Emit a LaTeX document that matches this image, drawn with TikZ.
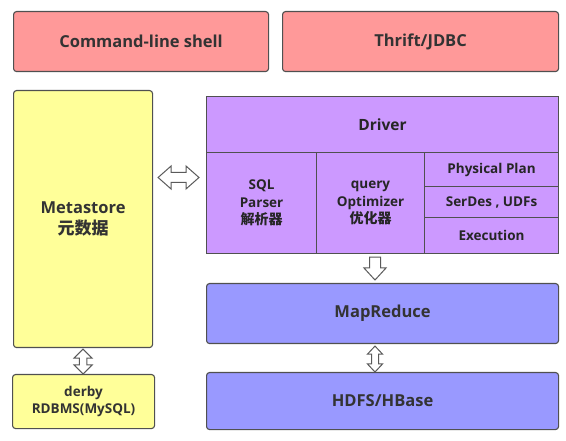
\documentclass[tikz,border=0pt]{standalone}
\usepackage{fontspec}
\newfontfamily\lbl{Open Sans}
\newfontfamily\cjk{Noto Sans CJK SC}
\usetikzlibrary{calc}
\definecolor{pinkc}{HTML}{FF9999}
\definecolor{yelc}{HTML}{FFFF99}
\definecolor{purc}{HTML}{CC99FF}
\definecolor{bluc}{HTML}{9999FF}
\definecolor{bordc}{HTML}{505050}
\definecolor{txtc}{HTML}{333333}
\definecolor{arrc}{HTML}{5A5A5A}
\newcommand\vdarrow[5]{%
  \draw[barrow] let \p1=(#1), \p2=(#2) in
  (\x1,\y1) -- (\x1+#4,\y1-#5) -- (\x1+#3,\y1-#5) -- (\x1+#3,\y2+#5) -- (\x1+#4,\y2+#5)
  -- (\x1,\y2) -- (\x1-#4,\y2+#5) -- (\x1-#3,\y2+#5) -- (\x1-#3,\y1-#5) -- (\x1-#4,\y1-#5) -- cycle;}
\newcommand\sdarrow[5]{%
  \draw[barrow] let \p1=(#1), \p2=(#2) in
  (\x1-#3,\y1) -- (\x1+#3,\y1) -- (\x1+#3,\y2+#5) -- (\x1+#4,\y2+#5) -- (\x1,\y2)
  -- (\x1-#4,\y2+#5) -- (\x1-#3,\y2+#5) -- cycle;}
\newcommand\hdarrow[5]{%
  \draw[barrow] let \p1=(#1), \p2=(#2) in
  (\x1,\y1) -- (\x1+#5,\y1+#4) -- (\x1+#5,\y1+#3) -- (\x2-#5,\y1+#3) -- (\x2-#5,\y1+#4)
  -- (\x2,\y1) -- (\x2-#5,\y1-#4) -- (\x2-#5,\y1-#3) -- (\x1+#5,\y1-#3) -- (\x1+#5,\y1-#4) -- cycle;}
\tikzset{
  box/.style={draw=bordc, line width=1.1pt, rounded corners=3pt, inner sep=0pt,
    anchor=north west, text=txtc, align=center},
  cell/.style={draw=bordc, line width=1.1pt, inner sep=0pt, anchor=north west,
    fill=purc, text=black!85, align=center},
  bigf/.style={font={\lbl\bfseries\fontsize{16.5}{21}\selectfont}},
  midf/.style={font={\lbl\bfseries\fontsize{15.5}{19}\selectfont}},
  smallf/.style={font={\lbl\bfseries\fontsize{13.5}{17.5}\selectfont}},
  barrow/.style={draw=arrc, line width=1pt, fill=white, line join=miter}
}
\begin{document}
\begin{tikzpicture}[x=1pt,y=-1pt]
\useasboundingbox[fill=white] (0,0) rectangle (566,441);
% top row
\node[box, bigf, fill=pinkc, minimum width=255pt, minimum height=60pt] (cli) at (13,11) {Command-line shell};
\node[box, bigf, fill=pinkc, minimum width=276pt, minimum height=60pt] (thr) at (282,11) {Thrift/JDBC};
% metastore
\node[box, bigf, fill=yelc, minimum width=139pt, minimum height=257pt] (meta) at (13,90)
  {Metastore\\{\cjk\bfseries\fontsize{17}{21}\selectfont 元数据}};
\node[box, smallf, fill=yelc, minimum width=142pt, minimum height=54pt] (derby) at (12,374)
  {derby\\RDBMS(MySQL)};
% driver
\node[cell, midf, minimum width=352pt, minimum height=56pt] (drv) at (206,96) {Driver};
\node[cell, smallf, minimum width=110pt, minimum height=101pt] (sql) at (206,152)
  {SQL\\Parser\\{\cjk\bfseries\fontsize{14}{17.5}\selectfont 解析器}};
\node[cell, smallf, minimum width=108pt, minimum height=101pt] (opt) at (316,152)
  {query\\Optimizer\\{\cjk\bfseries\fontsize{14}{17.5}\selectfont 优化器}};
\node[cell, smallf, minimum width=134pt, minimum height=34pt] (pp) at (424,152) {Physical Plan};
\node[cell, smallf, minimum width=134pt, minimum height=31pt] (sd) at (424,186) {SerDes , UDFs};
\node[cell, smallf, minimum width=134pt, minimum height=36pt] (ex) at (424,217) {Execution};
% hadoop
\node[box, bigf, fill=bluc, minimum width=352pt, minimum height=60pt] (mr) at (206,283) {MapReduce};
\node[box, bigf, fill=bluc, minimum width=352pt, minimum height=57pt] (hd) at (206,372) {HDFS/HBase};
% arrow anchors
\coordinate (ax) at (375,0);
\coordinate (ay) at (0,177.5);
\coordinate (h1) at ($(meta.east |- ay)+(5,0)$);
\coordinate (h2) at ($(sql.west |- ay)+(-7,0)$);
\coordinate (d1) at ($(sql.south -| ax)+(0,3)$);
\coordinate (d2) at ($(mr.north -| ax)+(0,-3)$);
\coordinate (m1) at ($(mr.south -| ax)+(0,2)$);
\coordinate (m2) at (hd.north -| ax);
\coordinate (s1) at ($(meta.south)+(0,1)$);
\coordinate (s2) at (derby.north);
\hdarrow{h1}{h2}{5pt}{11.5pt}{13pt}
\sdarrow{d1}{d2}{5.5pt}{11pt}{12pt}
\vdarrow{m1}{m2}{3.5pt}{7.5pt}{8pt}
\vdarrow{s1}{s2}{3.7pt}{9pt}{9pt}
\end{tikzpicture}
\end{document}
